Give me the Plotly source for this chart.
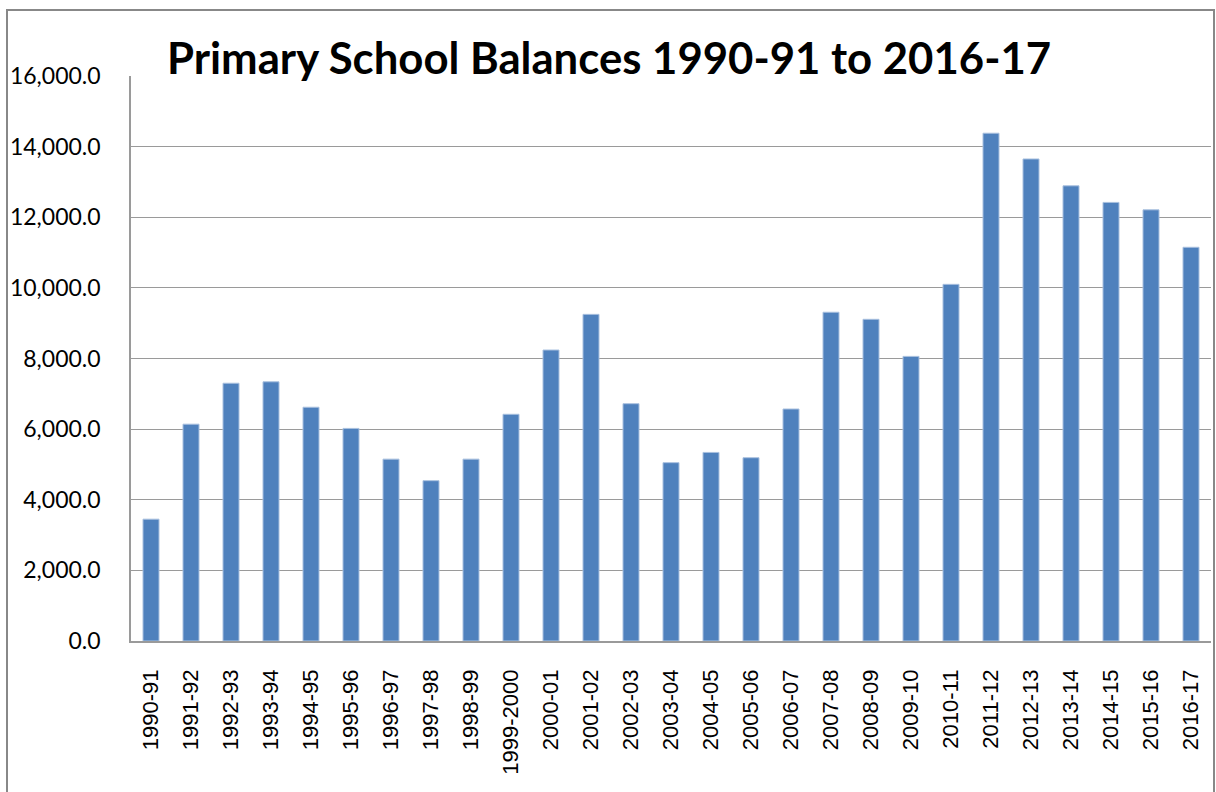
import plotly.graph_objects as go

years = ["1990-91", "1991-92", "1992-93", "1993-94", "1994-95", "1995-96", "1996-97",
         "1997-98", "1998-99", "1999-2000", "2000-01", "2001-02", "2002-03", "2003-04",
         "2004-05", "2005-06", "2006-07", "2007-08", "2008-09", "2009-10", "2010-11",
         "2011-12", "2012-13", "2013-14", "2014-15", "2015-16", "2016-17"]
balances = [3450, 6140, 7300, 7340, 6620, 6020, 5150,
            4540, 5150, 6420, 8240, 9250, 6720, 5050,
            5340, 5190, 6570, 9310, 9110, 8060, 10100,
            14380, 13650, 12890, 12420, 12210, 11150]
y_ticks = [0, 2000, 4000, 6000, 8000, 10000, 12000, 14000, 16000]
title_text = "Primary School Balances 1990-91 to 2016-17"

W, H = 1216, 792
L, R, T, B = 131, 1211, 76, 641

fig = go.Figure()
fig.add_trace(go.Bar(
    x=years, y=balances,
    marker=dict(color="#4F81BD", line=dict(color="#A9C0DF", width=1)),
    width=0.4,
))

def px_x(p):
    return (p - L) / (R - L)

def px_y(p):
    return (B - p) / (B - T)

fig.update_layout(
    width=W, height=H,
    margin=dict(l=L, r=W - R, t=T, b=H - B, pad=0),
    paper_bgcolor="white", plot_bgcolor="white",
    showlegend=False,
    xaxis=dict(
        type="category", tickangle=-90,
        tickfont=dict(family="Liberation Sans", size=22, color="black"),
        showgrid=False, showline=True, linecolor="#9a9a9a", linewidth=1.5,
        ticks="", ticklabelstandoff=18,
    ),
    yaxis=dict(
        range=[0, 16000], tickvals=y_ticks, tickformat=",.1f",
        tickfont=dict(family="Lato", size=23, color="black"),
        showgrid=True, gridcolor="#9a9a9a", gridwidth=1.2,
        showline=True, linecolor="#9a9a9a", linewidth=1.5,
        zeroline=False, ticks="", ticklabelstandoff=24,
    ),
    shapes=[dict(
        type="rect", xref="paper", yref="paper",
        x0=px_x(7), x1=px_x(1214), y0=px_y(820), y1=px_y(10),
        line=dict(color="#888888", width=2), fillcolor="rgba(0,0,0,0)",
        layer="above",
    )],
    annotations=[dict(
        text=title_text, xref="paper", yref="paper",
        x=px_x(164), y=px_y(86), xanchor="left", yanchor="bottom",
        showarrow=False, bgcolor="white", borderpad=2,
        font=dict(family="Lato", size=43.7, color="black", weight="bold"),
    )],
)

fig.write_html(
    "out.html",
    config={"displayModeBar": False},
    post_script="document.body.style.margin='0';document.body.style.overflow='hidden';",
)
